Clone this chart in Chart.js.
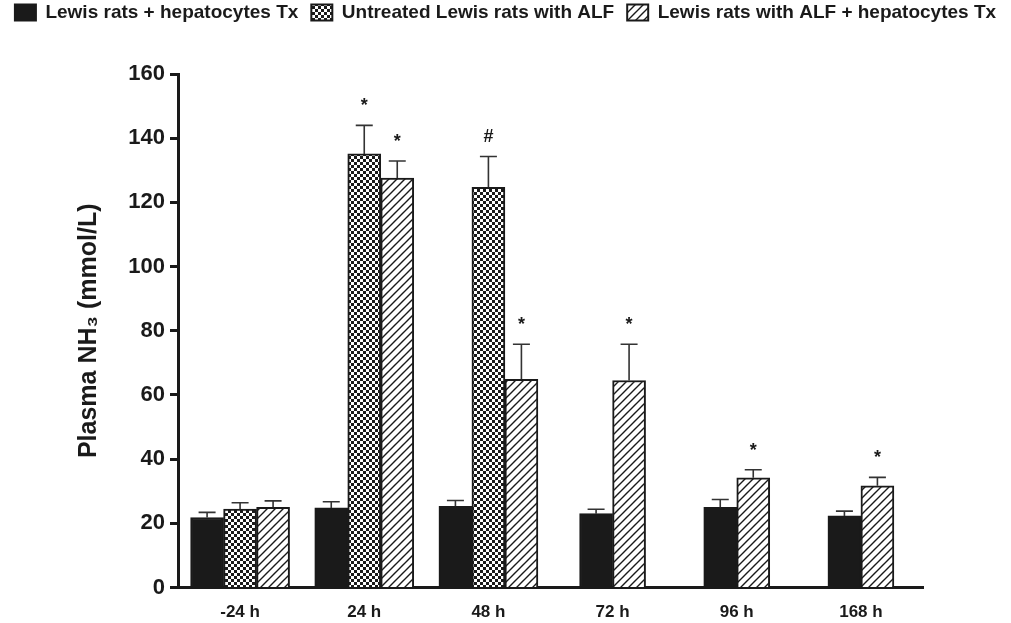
<!DOCTYPE html>
<html>
<head>
<meta charset="utf-8">
<script src="https://cdn.jsdelivr.net/npm/chart.js@4/dist/chart.umd.min.js"></script>
<style>
  html, body { margin: 0; padding: 0; background: #fff; }
</style>
</head>
<body>
<canvas id="monGraphique" width="1011" height="623"></canvas>
<script>
// categories and series
const categories = ['-24 h', '24 h', '48 h', '72 h', '96 h', '168 h'];
const seriesNames = ['Lewis rats + hepatocytes Tx', 'Untreated Lewis rats with ALF', 'Lewis rats with ALF + hepatocytes Tx'];

const txLewis = [21.8, 24.8, 25.3, 23.0, 25.0, 22.3];
const txLewisErr = [1.6, 1.9, 1.8, 1.4, 2.4, 1.5];
const txLewisMarks = ['', '', '', '', '', ''];

const untreatedAlf = [24.4, 135.1, 124.7, null, null, null];
const untreatedAlfErr = [2.0, 8.9, 9.6, null, null, null];
const untreatedAlfMarks = ['', '*', '#', '', '', ''];

const alfTx = [25.0, 127.6, 64.9, 64.5, 34.2, 31.7];
const alfTxErr = [2.0, 5.3, 10.9, 11.3, 2.5, 2.6];
const alfTxMarks = ['', '*', '*', '*', '*', '*'];

const yMin = 0, yMax = 160, yStep = 20;

const INK = '#1a1a1a';
const FONT = '"Liberation Sans", Arial, sans-serif';
Chart.defaults.font.family = FONT;
Chart.defaults.color = INK;

// motifs : damier et hachures
function checkerPattern() {
    const c = document.createElement('canvas');
    c.width = 6; c.height = 6;
    const g = c.getContext('2d');
    g.fillStyle = '#fff';
    g.fillRect(0, 0, 6, 6);
    g.fillStyle = INK;
    g.fillRect(0, 0, 3, 3);
    g.fillRect(3, 3, 3, 3);
    return g.createPattern(c, 'repeat');
}

function hatchPattern() {
    const c = document.createElement('canvas');
    c.width = 8; c.height = 8;
    const g = c.getContext('2d');
    g.fillStyle = '#fff';
    g.fillRect(0, 0, 8, 8);
    g.strokeStyle = INK;
    g.lineWidth = 1.4;
    g.beginPath();
    g.moveTo(-1, 9); g.lineTo(9, -1);
    g.moveTo(-1, 1); g.lineTo(1, -1);
    g.moveTo(7, 9); g.lineTo(9, 7);
    g.stroke();
    return g.createPattern(c, 'repeat');
}

// barres d'erreur (vers le haut) + symboles * et #
const errorBars = {
    id: 'errorBars',
    afterDatasetsDraw(chart) {
        const ctx = chart.ctx;
        const y = chart.scales.y;
        chart.data.datasets.forEach((ds, i) => {
            const meta = chart.getDatasetMeta(i);
            meta.data.forEach((bar, j) => {
                const v = ds.data[j];
                if (v === null || v === undefined) return;
                const top = y.getPixelForValue(v + ds.errors[j]);
                ctx.save();
                ctx.strokeStyle = '#333';
                ctx.lineWidth = 1.6;
                ctx.beginPath();
                ctx.moveTo(bar.x, bar.y);
                ctx.lineTo(bar.x, top);
                ctx.moveTo(bar.x - 8.5, top);
                ctx.lineTo(bar.x + 8.5, top);
                ctx.stroke();
                if (ds.marks[j]) {
                    ctx.fillStyle = INK;
                    ctx.font = 'bold 18px ' + FONT;
                    ctx.textAlign = 'center';
                    ctx.textBaseline = 'alphabetic';
                    ctx.fillText(ds.marks[j], bar.x, top - 14);
                }
                ctx.restore();
            });
        });
    }
};

function makeDataset(label, data, errors, marks, fill) {
    return {
        label: label,
        data: data,
        errors: errors,
        marks: marks,
        backgroundColor: fill,
        borderColor: INK,
        borderWidth: 2,
        barThickness: 33,
        skipNull: true
    };
}

const ctx = document.getElementById('monGraphique').getContext('2d');
new Chart(ctx, {
    type: 'bar',
    data: {
        labels: categories,
        datasets: [
            makeDataset(seriesNames[0], txLewis, txLewisErr, txLewisMarks, INK),
            makeDataset(seriesNames[1], untreatedAlf, untreatedAlfErr, untreatedAlfMarks, checkerPattern()),
            makeDataset(seriesNames[2], alfTx, alfTxErr, alfTxMarks, hatchPattern())
        ]
    },
    options: {
        responsive: false,
        animation: false,
        layout: { padding: { top: -10, left: 0, right: 0, bottom: 0 } },
        scales: {
            x: {
                grid: { display: false },
                border: { display: true, color: INK, width: 3 },
                ticks: { padding: 7, font: { size: 17, weight: 'bold' }, color: INK },
                afterFit: s => { s.height = 35.5; }
            },
            y: {
                min: yMin,
                max: yMax,
                ticks: { stepSize: yStep, padding: 5, font: { size: 22, weight: 'bold' }, color: INK },
                grid: { drawOnChartArea: false, drawTicks: true, tickLength: 8, tickWidth: 3, color: INK },
                border: { display: true, color: INK, width: 3 },
                title: {
                    display: true,
                    text: 'Plasma NH₃ (mmol/L)',
                    font: { size: 25, weight: 'bold' },
                    color: INK,
                    padding: { top: 74, bottom: 0 }
                },
                afterFit: s => { s.width = 178; }
            },
            // axes vides : marges autour de la zone du graphique
            padTop: {
                type: 'linear', position: 'top', display: true,
                grid: { display: false }, border: { display: false }, ticks: { display: false },
                afterFit: s => { s.height = 42; }
            },
            padRight: {
                type: 'linear', position: 'right', display: true,
                grid: { display: false }, border: { display: false }, ticks: { display: false },
                afterFit: s => { s.width = 88; }
            }
        },
        plugins: {
            legend: {
                position: 'top',
                labels: {
                    boxWidth: 21,
                    boxHeight: 16,
                    padding: 13,
                    color: INK,
                    font: { size: 19, weight: 'bold' }
                }
            },
            tooltip: { enabled: false }
        }
    },
    plugins: [errorBars]
});
</script>
</body>
</html>
